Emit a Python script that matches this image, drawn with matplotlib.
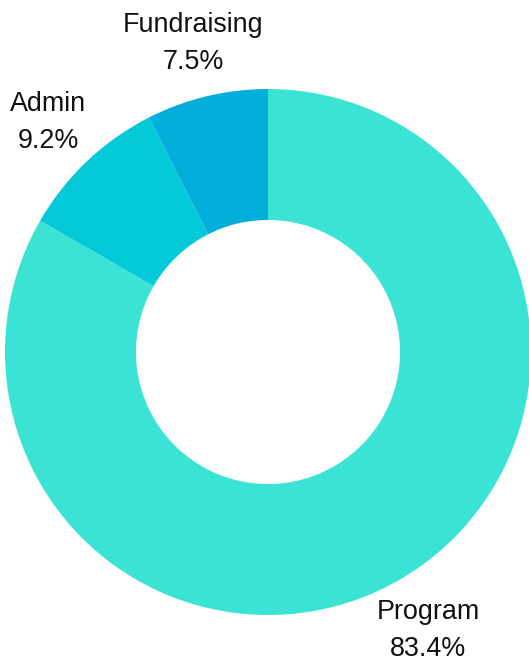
import numpy as np
import matplotlib.pyplot as plt

plt.rcParams['font.family'] = ['Liberation Sans', 'DejaVu Sans']

# expense breakdown
categories = ['Program', 'Admin', 'Fundraising']
shares = [83.4, 9.2, 7.5]
colors = ['#3be3d4', '#03c9d9', '#03aeda']

W, H = 529, 657
fig = plt.figure(figsize=(W / 100, H / 100), dpi=100)
ax = fig.add_axes([0, 0, 1, 1])

wedges, _ = ax.pie(shares, colors=colors, startangle=90, counterclock=False,
                   radius=1.0, wedgeprops=dict(width=0.498, linewidth=0),
                   normalize=True)

# donut centre and radius in pixels
cx, cy, R = 268, 352, 263
ax.set_aspect('equal')
ax.set_xlim(-cx / R, (W - cx) / R)
ax.set_ylim((cy - H) / R, cy / R)
ax.axis('off')

# labels at the middle angle of each wedge
for w, name, val in zip(wedges, categories, shares):
    ang = np.deg2rad((w.theta1 + w.theta2) / 2)
    r = 1.215
    ax.text(r * np.cos(ang), r * np.sin(ang) - 2.0 / R, f'{name}\n{val}%',
            ha='center', va='center', fontsize=19.4, color='#111111',
            linespacing=1.55)

fig.savefig('out.png', dpi=100)
